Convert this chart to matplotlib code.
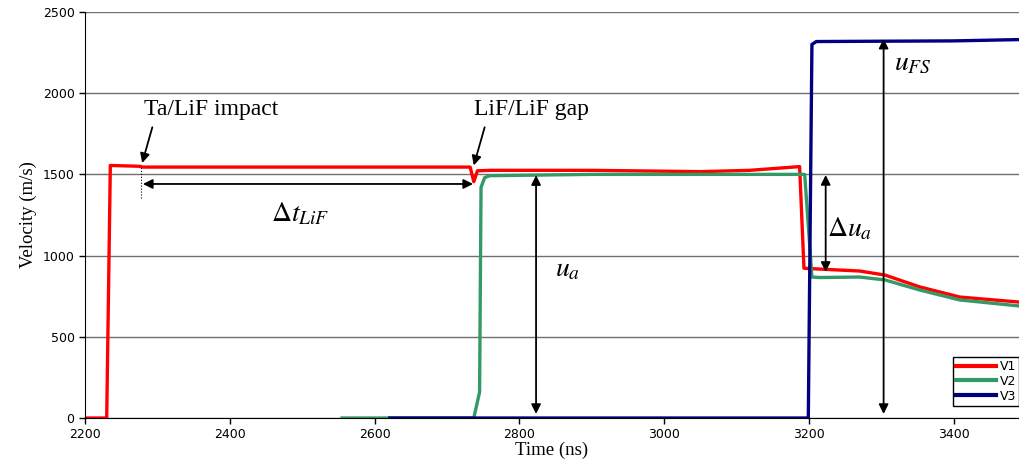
import numpy as np
import matplotlib
matplotlib.use('Agg')
import matplotlib.pyplot as plt

plt.rcParams['mathtext.fontset'] = 'stix'

# velocity traces (time in ns, velocity in m/s)
t_v1 = [2200, 2230, 2235, 2275, 2280, 2732, 2737, 2742, 2760, 2900, 3050, 3118, 3187,
        3193, 3215, 3270, 3305, 3353, 3408, 3490]
v_v1 = [0, 0, 1555, 1550, 1545, 1545, 1455, 1522, 1525, 1525, 1517, 1525, 1548,
        922, 917, 905, 880, 807, 745, 714]

t_v2 = [2555, 2737, 2745, 2747, 2752, 2759, 2900, 3100, 3194, 3204, 3215, 3270, 3305,
        3353, 3408, 3490]
v_v2 = [0, 0, 160, 1420, 1480, 1492, 1500, 1500, 1500, 868, 865, 868, 850,
        788, 727, 690]

t_v3 = [2621, 2900, 3199, 3204, 3210, 3300, 3400, 3490]
v_v3 = [0, 0, 0, 2300, 2318, 2320, 2322, 2330]

series = ['V1', 'V2', 'V3']
colors = ['#FF0000', '#339966', '#000080']

fig = plt.figure(figsize=(10.19, 4.59), dpi=100)
ax = fig.add_axes([0.0834, 0.0893, 0.9166, 0.8846])

for (t, v), name, c in zip([(t_v1, v_v1), (t_v2, v_v2), (t_v3, v_v3)], series, colors):
    ax.plot(t, v, color=c, lw=2.4, label=name, solid_joinstyle='round')

ax.set_xlim(2200, 3490)
ax.set_ylim(0, 2500)
ax.set_xticks(np.arange(2200, 3401, 200))
ax.set_yticks(np.arange(0, 2501, 500))
ax.yaxis.grid(True, color='#707070', lw=1)
ax.set_axisbelow(True)
ax.spines['top'].set_visible(False)
ax.spines['right'].set_visible(False)
ax.tick_params(labelsize=9, length=4, width=1)
for lab in ax.get_xticklabels() + ax.get_yticklabels():
    lab.set_family('DejaVu Sans')

serif = 'Liberation Serif'
ax.set_xlabel('Time (ns)', family=serif, fontsize=13.5, labelpad=0)
ax.set_ylabel('Velocity (m/s)', family=serif, fontsize=13.5, labelpad=4)

# annotations
arr1 = dict(arrowstyle='-|>', color='black', lw=1.3, mutation_scale=14, shrinkA=0, shrinkB=0)
arr2 = dict(arrowstyle='<|-|>', color='black', lw=1.3, mutation_scale=14, shrinkA=0, shrinkB=0)

ax.text(2374, 1897, 'Ta/LiF impact', family=serif, fontsize=17, ha='center', va='center')
ax.annotate('', xy=(2279, 1570), xytext=(2293, 1790), arrowprops=arr1)
ax.plot([2277, 2277], [1355, 1550], color='black', lw=0.8, ls=':')

ax.text(2817, 1897, 'LiF/LiF gap', family=serif, fontsize=17, ha='center', va='center')
ax.annotate('', xy=(2737, 1555), xytext=(2752, 1790), arrowprops=arr1)

ax.annotate('', xy=(2280, 1441), xytext=(2736, 1441), arrowprops=arr2)
ax.text(2497, 1262, r'$\Delta t_{LiF}$', fontsize=20, ha='center', va='center')

ax.annotate('', xy=(2823, 1495), xytext=(2823, 25), arrowprops=arr2)
ax.text(2866, 924, r'$u_a$', fontsize=20, ha='center', va='center')

ax.annotate('', xy=(3223, 1496), xytext=(3223, 900), arrowprops=arr2)
ax.text(3256, 1170, r'$\Delta u_a$', fontsize=20, ha='center', va='center')

ax.annotate('', xy=(3303, 2335), xytext=(3303, 25), arrowprops=arr2)
ax.text(3344, 2192, r'$u_{FS}$', fontsize=20, ha='center', va='center')

leg = ax.legend(loc='lower right', bbox_to_anchor=(1.0, 0.03), borderaxespad=0,
                fancybox=False, framealpha=1, edgecolor='black', handlelength=3.2,
                handletextpad=0.3, labelspacing=0.15, borderpad=0.25,
                prop={'family': 'DejaVu Sans', 'size': 9})
leg.get_frame().set_linewidth(1)
for h in leg.get_lines():
    h.set_linewidth(3)

fig.savefig('out.png', dpi=100)
